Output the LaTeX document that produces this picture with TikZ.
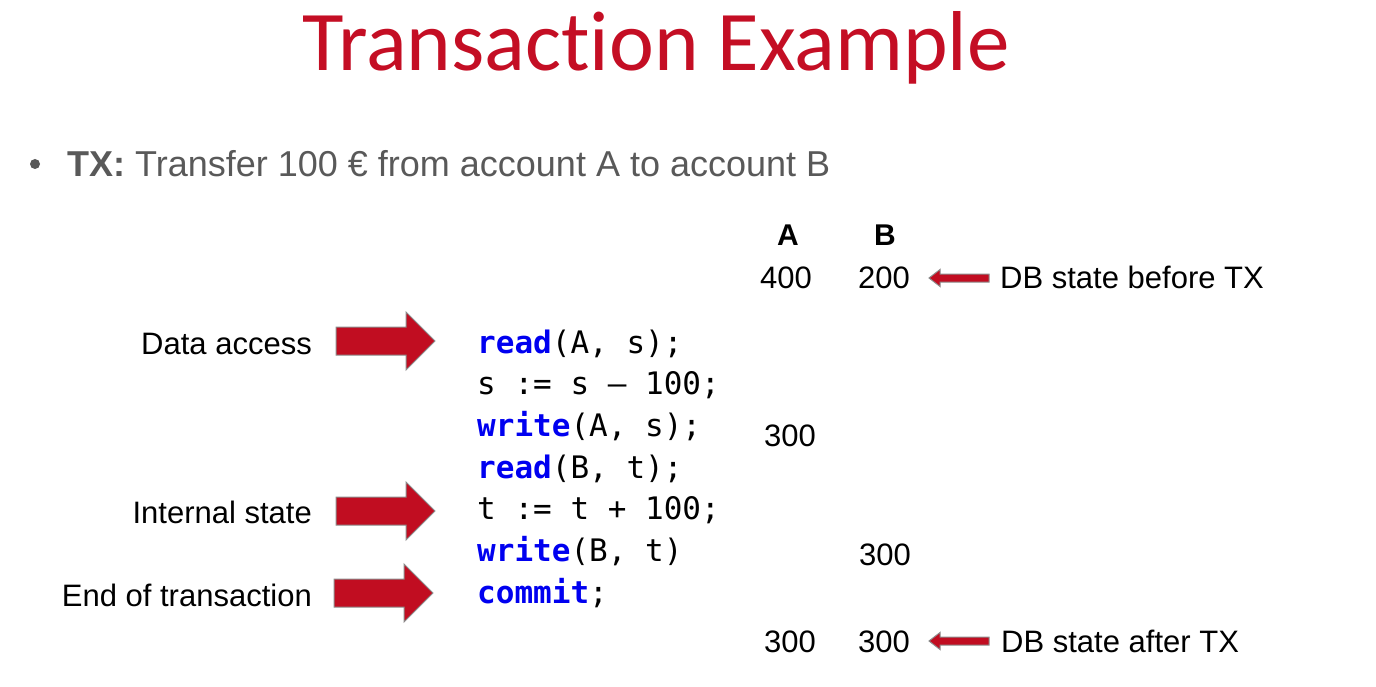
\documentclass[tikz,border=0pt]{standalone}
\usepackage{fontspec}
\setmainfont{Liberation Sans}
\setmonofont{DejaVu Sans Mono}
\newfontfamily\titlefont[Ligatures={NoCommon,NoRequired,NoContextual}]{Carlito}
\definecolor{slidered}{RGB}{196,14,36}
\definecolor{arrowred}{RGB}{193,13,33}
\definecolor{bodygray}{RGB}{89,89,89}
\definecolor{kwblue}{RGB}{0,0,240}
\newcommand{\kw}[1]{\textbf{\textcolor{kwblue}{#1}}}
\tikzset{
  txt/.style={inner sep=0pt, anchor=base, font=\fontsize{31}{37}\selectfont},
  code/.style={inner sep=0pt, anchor=base west, font=\ttfamily\fontsize{31}{37}\selectfont},
  label/.style={txt, anchor=base east},
  arrowbody/.style={fill=arrowred, draw=gray!90, line width=1pt, line join=miter},
  fatarrow/.pic={
    \path[arrowbody] (0,-14) -- (70,-14) -- (70,-29) -- (99,0) -- (70,29) -- (70,14) -- (0,14) -- cycle;
  },
  thinarrow/.pic={
    \path[arrowbody] (0,0) -- (11,-8.5) -- (11,-4) -- (60,-4) -- (60,4) -- (11,4) -- (11,8.5) -- cycle;
  }
}
\begin{document}
\begin{tikzpicture}[x=1pt,y=-1pt]
\useasboundingbox (0,0) rectangle (1376,687);

% title
\node[inner sep=0pt, anchor=base, text=slidered, font=\titlefont\fontsize{85}{90}\selectfont] (title) at (656,71) {Transaction Example};

% bullet line
\fill[bodygray] (35,164) circle (5);
\node[inner sep=0pt, anchor=base west, text=bodygray, font=\fontsize{36}{42}\selectfont] (tx) at (67,177) {\textbf{TX:} Transfer 100 € from account A to account B};

% column heads and values
\node[txt, font=\bfseries\fontsize{30}{36}\selectfont] (headA) at (788,246) {A};
\node[txt, font=\bfseries\fontsize{30}{36}\selectfont] (headB) at (885,246) {B};
\node[txt] (a0) at (786,288) {400};
\node[txt] (b0) at (884,288) {200};
\node[txt] (a1) at (790,446) {300};
\node[txt] (b1) at (885,565) {300};
\node[txt] (a2) at (790,652) {300};
\node[txt] (b2) at (884,652) {300};

% database state notes
\pic at (929,278) {thinarrow};
\node[txt, anchor=base west] (before) at (1000,288) {DB state before TX};
\pic at (929,641) {thinarrow};
\node[txt, anchor=base west] (after) at (1001,652) {DB state after TX};

% labels on the left
\node[label] (access) at (312,354) {Data access};
\node[label] (internal) at (312,523) {Internal state};
\node[label] (eot) at (312,606) {End of transaction};
\pic at (336,341) {fatarrow};
\pic at (336,511) {fatarrow};
\pic at (334,593) {fatarrow};

% transaction code
\node[code] (c1) at (477,353) {\kw{read}(A, s);};
\node[code] (c2) at (477,394.7) {s := s – 100;};
\node[code] (c3) at (477,436.3) {\kw{write}(A, s);};
\node[code] (c4) at (477,478) {\kw{read}(B, t);};
\node[code] (c5) at (477,519.7) {t := t + 100;};
\node[code] (c6) at (477,561.3) {\kw{write}(B, t)};
\node[code] (c7) at (477,603) {\kw{commit};};
\end{tikzpicture}
\end{document}
